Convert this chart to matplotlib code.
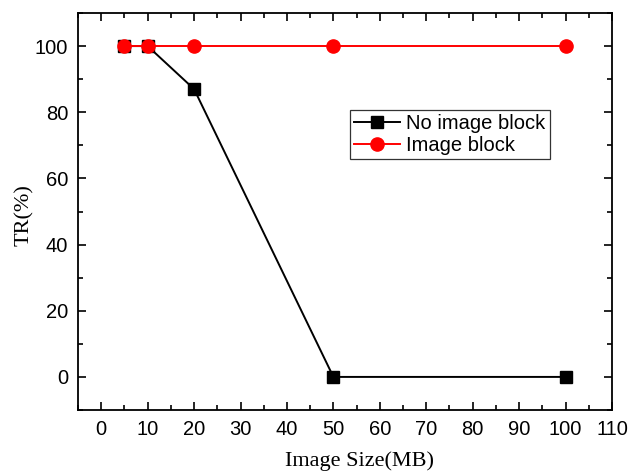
import matplotlib
matplotlib.use("Agg")
import matplotlib.pyplot as plt
from matplotlib.ticker import MultipleLocator

sizes = [5, 10, 20, 50, 100]
tr_no_block = [100, 100, 87, 0, 0]
tr_block = [100, 100, 100, 100, 100]

fig = plt.figure(figsize=(6.3, 4.71), dpi=100)
ax = fig.add_axes([78/630, 61/471, 534/630, 397/471])

ax.plot(sizes, tr_no_block, color="black", marker="s", markersize=8.5,
        linewidth=1.4, label="No image block", zorder=3)
ax.plot(sizes, tr_block, color="red", marker="o", markersize=9.5,
        linewidth=1.4, label="Image block", zorder=4)

ax.set_xlim(-5, 110)
ax.set_ylim(-10, 110)
ax.xaxis.set_major_locator(MultipleLocator(10))
ax.xaxis.set_minor_locator(MultipleLocator(5))
ax.yaxis.set_major_locator(MultipleLocator(20))
ax.yaxis.set_minor_locator(MultipleLocator(10))
ax.tick_params(which="both", direction="in", top=True, right=True, width=1.2)
ax.tick_params(which="major", length=6, pad=7)
ax.tick_params(which="minor", length=3.5)
for lbl in ax.get_xticklabels() + ax.get_yticklabels():
    lbl.set_fontfamily("Liberation Sans")
    lbl.set_fontsize(14.5)
for s in ax.spines.values():
    s.set_linewidth(1.3)

ax.set_xlabel("Image Size(MB)", fontfamily="Liberation Serif", fontsize=16)
ax.set_ylabel("TR(%)", fontfamily="Liberation Serif", fontsize=16)
ax.xaxis.set_label_coords(0.528, -0.103, transform=ax.transAxes)
ax.yaxis.set_label_coords(-0.083, 0.49, transform=ax.transAxes)

leg = ax.legend(loc="upper left", bbox_to_anchor=((350-78)/534, (410-110)/397),
                prop={"family": "Liberation Sans", "size": 14.5},
                frameon=True, fancybox=False, edgecolor="black",
                handlelength=2.3, handletextpad=0.3, borderpad=0.2,
                labelspacing=0.15, borderaxespad=0)
leg.get_frame().set_linewidth(0.9)

fig.savefig("out.png", dpi=100)
